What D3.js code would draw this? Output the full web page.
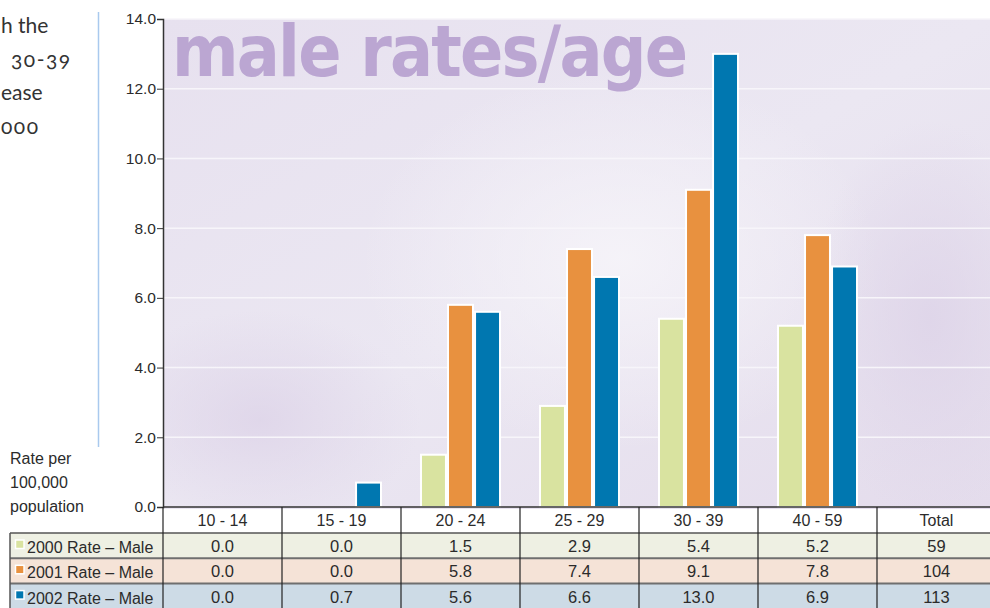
<!DOCTYPE html>
<html lang="en">
<head>
    <meta charset="UTF-8">
    <title>male rates/age</title>
    <style>
        body { margin: 0; background: #fff; }
        svg { display: block; }
        .tick-label, .cell { font-family: "Liberation Sans", Arial, sans-serif; fill: #2b2b2b; }
    </style>
</head>
<body>
    <svg width="990" height="608"></svg>
    <script src="https://d3js.org/d3.v7.min.js"></script>
<script>

// data
const categories = ["10 - 14", "15 - 19", "20 - 24", "25 - 29", "30 - 39", "40 - 59", "Total"];
const seriesNames = ["2000 Rate – Male", "2001 Rate – Male", "2002 Rate – Male"];
const rate2000 = [0.0, 0.0, 1.5, 2.9, 5.4, 5.2, 59];
const rate2001 = [0.0, 0.0, 5.8, 7.4, 9.1, 7.8, 104];
const rate2002 = [0.0, 0.7, 5.6, 6.6, 13.0, 6.9, 113];
const yTicks = [0, 2, 4, 6, 8, 10, 12, 14];
const sideText = ["h the", "30-39", "ease", "000"];

const colors = ["#d9e3a0", "#e8913f", "#0077b0"];
const rowColors = ["#eef0e3", "#f5e3d7", "#cddbe6"];
const allSeries = [rate2000, rate2001, rate2002];

const svg = d3.select("svg");
const plotLeft = 163, plotRight = 996, plotTop = 19, plotBottom = 507;
const rowH = 25.3;

const x = d3.scaleBand().domain(categories).range([plotLeft, plotRight]);
const inner = d3.scaleBand().domain(seriesNames).range([20, 100]).paddingInner(0.04);
const y = d3.scaleLinear().domain([0, 14]).range([plotBottom, plotTop]);

const defs = svg.append("defs");
const bg = defs.append("linearGradient").attr("id", "bg")
    .attr("x1", "0%").attr("y1", "0%").attr("x2", "100%").attr("y2", "100%");
bg.append("stop").attr("offset", "0%").attr("stop-color", "#e7e1ef");
bg.append("stop").attr("offset", "50%").attr("stop-color", "#ebe7f2");
bg.append("stop").attr("offset", "100%").attr("stop-color", "#e4dcec");

const glow = defs.append("radialGradient").attr("id", "glow");
glow.append("stop").attr("offset", "0%").attr("stop-color", "#f6f4f9").attr("stop-opacity", 0.9);
glow.append("stop").attr("offset", "100%").attr("stop-color", "#f6f4f9").attr("stop-opacity", 0);

const shade = defs.append("radialGradient").attr("id", "shade");
shade.append("stop").attr("offset", "0%").attr("stop-color", "#ddd3e8").attr("stop-opacity", 0.8);
shade.append("stop").attr("offset", "100%").attr("stop-color", "#ddd3e8").attr("stop-opacity", 0);

const clip = defs.append("clipPath").attr("id", "plotClip");
clip.append("rect").attr("x", plotLeft).attr("y", plotTop).attr("width", 990 - plotLeft).attr("height", plotBottom + 4 - plotTop);

// plot background
const plotBg = svg.append("g").attr("clip-path", "url(#plotClip)");
plotBg.append("rect")
    .attr("x", plotLeft).attr("y", plotTop)
    .attr("width", 990 - plotLeft).attr("height", plotBottom + 4 - plotTop)
    .attr("fill", "url(#bg)");
plotBg.append("ellipse").attr("cx", 620).attr("cy", 260).attr("rx", 260).attr("ry", 190).attr("fill", "url(#glow)");
plotBg.append("ellipse").attr("cx", 260).attr("cy", 420).attr("rx", 160).attr("ry", 110).attr("fill", "url(#shade)");
plotBg.append("ellipse").attr("cx", 930).attr("cy", 320).attr("rx", 120).attr("ry", 200).attr("fill", "url(#shade)");

// gridlines
svg.append("g")
    .selectAll("line")
    .data(yTicks.filter(d => d > 0))
    .join("line")
    .attr("x1", plotLeft).attr("x2", 990)
    .attr("y1", d => y(d)).attr("y2", d => y(d))
    .attr("stroke", "#f7f5fa").attr("stroke-width", 1.5);

// big title
svg.append("text")
    .attr("x", 172).attr("y", 76)
    .attr("textLength", 516).attr("lengthAdjust", "spacing")
    .attr("font-family", "'DejaVu Sans Condensed', 'DejaVu Sans', sans-serif")
    .attr("font-stretch", "condensed")
    .attr("font-weight", "bold")
    .attr("font-size", 71)
    .attr("fill", "#bba6d2")
    .text("male rates/age");

// bars (Total is only in the table)
const barCats = categories.slice(0, 6);
const groups = svg.append("g")
    .selectAll("g")
    .data(barCats)
    .join("g")
    .attr("transform", d => `translate(${x(d)},0)`);

groups.selectAll("rect")
    .data((c, i) => seriesNames.map((s, k) => ({ s, k, v: allSeries[k][i] })).filter(d => d.v > 0))
    .join("rect")
    .attr("x", d => inner(d.s))
    .attr("y", d => y(d.v))
    .attr("width", inner.bandwidth() - 1)
    .attr("height", d => y(0) - y(d.v))
    .attr("fill", d => colors[d.k])
    .attr("stroke", "#fff")
    .attr("stroke-width", 2);

// y axis
const yAxis = svg.append("g")
    .attr("transform", `translate(${plotLeft},0)`)
    .call(d3.axisLeft(y).tickValues(yTicks).tickFormat(d3.format(".1f")).tickSize(6).tickPadding(1));
yAxis.select(".domain").attr("stroke", "#333").attr("stroke-width", 1.5);
yAxis.selectAll(".tick line").attr("stroke", "#333");
yAxis.selectAll("text")
    .attr("class", "tick-label")
    .attr("font-size", 15.5)
    .attr("font-family", "'Liberation Sans', Arial, sans-serif")
    .attr("fill", "#2b2b2b");

// table rows
const table = svg.append("g");
const rowTop = plotBottom + 26;
seriesNames.forEach((s, k) => {
    table.append("rect")
        .attr("x", 10).attr("y", rowTop + k * rowH)
        .attr("width", 990 - 10).attr("height", rowH)
        .attr("fill", rowColors[k]);
});
table.append("rect")
    .attr("x", plotLeft).attr("y", plotBottom + 2)
    .attr("width", 990 - plotLeft).attr("height", rowTop - plotBottom - 2)
    .attr("fill", "#fff");

// row separators
[0, 1, 2].forEach(k => {
    table.append("line")
        .attr("x1", 10).attr("x2", 990)
        .attr("y1", rowTop + k * rowH).attr("y2", rowTop + k * rowH)
        .attr("stroke", k === 0 ? "#555" : "#6f6f6f").attr("stroke-width", k === 0 ? 1.5 : 2);
});

// x axis line and column dividers
table.append("line")
    .attr("x1", plotLeft).attr("x2", 990)
    .attr("y1", plotBottom).attr("y2", plotBottom)
    .attr("stroke", "#333").attr("stroke-width", 1.5);
table.selectAll(".div")
    .data(categories)
    .join("line")
    .attr("class", "div")
    .attr("x1", d => x(d)).attr("x2", d => x(d))
    .attr("y1", plotBottom).attr("y2", 608)
    .attr("stroke", "#222").attr("stroke-width", 1.2);
table.append("line")
    .attr("x1", 10).attr("x2", 10)
    .attr("y1", rowTop).attr("y2", 608)
    .attr("stroke", "#555").attr("stroke-width", 1.5);

// header labels
table.selectAll(".head")
    .data(categories)
    .join("text")
    .attr("class", "cell")
    .attr("x", d => x(d) + x.bandwidth() / 2)
    .attr("y", plotBottom + 19)
    .attr("text-anchor", "middle")
    .attr("font-size", 16)
    .text(d => d);

// values
const fmt = (v, i) => i === categories.length - 1 ? String(v) : v.toFixed(1);
allSeries.forEach((vals, k) => {
    table.append("g")
        .selectAll("text")
        .data(vals)
        .join("text")
        .attr("class", "cell")
        .attr("x", (d, i) => x(categories[i]) + x.bandwidth() / 2)
        .attr("y", rowTop + k * rowH + 19)
        .attr("text-anchor", "middle")
        .attr("font-size", 16.5)
        .text((d, i) => fmt(d, i));

    // legend entry
    table.append("rect")
        .attr("x", 15.5).attr("y", rowTop + k * rowH + 7)
        .attr("width", 8.5).attr("height", 8.5)
        .attr("fill", colors[k])
        .attr("stroke", "#fff").attr("stroke-width", 1.5);
    table.append("text")
        .attr("class", "cell")
        .attr("x", 27).attr("y", rowTop + k * rowH + 20)
        .attr("font-size", 16)
        .text(seriesNames[k]);
});

// y axis title
svg.append("text")
    .attr("class", "cell")
    .attr("font-size", 16)
    .selectAll("tspan")
    .data(["Rate per", "100,000", "population"])
    .join("tspan")
    .attr("x", 10)
    .attr("y", (d, i) => 464 + i * 24)
    .text(d => d);

// cut-off body text on the left
svg.append("line")
    .attr("x1", 98.5).attr("x2", 98.5)
    .attr("y1", 12).attr("y2", 447)
    .attr("stroke", "#a9c9ee").attr("stroke-width", 1.5);

svg.append("g")
    .selectAll("text")
    .data(sideText)
    .join("text")
    .attr("x", (d, i) => i === 1 ? 11 : 1)
    .attr("y", (d, i) => 33 + i * 33.5)
    .attr("font-family", "Lato, 'Open Sans', sans-serif")
    .attr("font-size", 21)
    .attr("fill", "#333")
    .attr("letter-spacing", (d, i) => i === 1 || i === 3 ? 1.5 : 0)
    .style("font-feature-settings", "'onum' 1")
    .text(d => d);

</script>
</body>
</html>
